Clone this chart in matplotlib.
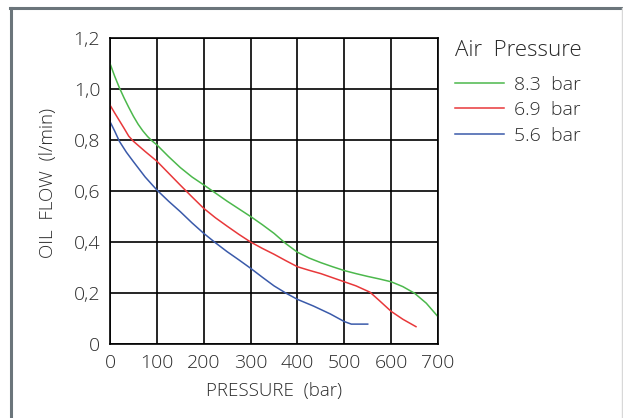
import matplotlib
matplotlib.use("Agg")
import matplotlib.pyplot as plt
from matplotlib.lines import Line2D

# ---- data ----
p_83 = [0, 10, 20, 30, 40, 50, 60, 70, 80, 90, 100, 125, 150, 175, 200, 225, 250, 275, 300,
        325, 350, 375, 400, 425, 450, 475, 500, 525, 550, 575, 600, 625, 650, 675, 700]
f_83 = [1.10, 1.05, 1.005, 0.965, 0.928, 0.893, 0.862, 0.836, 0.814, 0.796, 0.781, 0.735, 0.692,
        0.655, 0.624, 0.592, 0.56, 0.53, 0.50, 0.468, 0.434, 0.394, 0.36, 0.337, 0.319, 0.303,
        0.288, 0.276, 0.265, 0.255, 0.244, 0.225, 0.199, 0.16, 0.107]

p_69 = [0, 10, 20, 30, 40, 50, 75, 100, 125, 150, 175, 200, 225, 250, 275, 300, 325, 350,
        375, 400, 425, 450, 475, 500, 525, 555, 575, 600, 625, 653]
f_69 = [0.937, 0.906, 0.876, 0.846, 0.815, 0.795, 0.755, 0.717, 0.67, 0.623, 0.577, 0.532, 0.495,
        0.462, 0.43, 0.40, 0.375, 0.352, 0.327, 0.303, 0.289, 0.276, 0.26, 0.244, 0.228,
        0.203, 0.17, 0.128, 0.097, 0.068]

p_56 = [0, 10, 20, 35, 50, 75, 100, 125, 150, 175, 200, 225, 250, 275, 300, 325, 350, 375, 400,
        434, 470, 500, 515, 550]
f_56 = [0.872, 0.835, 0.795, 0.752, 0.715, 0.655, 0.604, 0.56, 0.519, 0.475, 0.434, 0.397,
        0.362, 0.33, 0.297, 0.262, 0.228, 0.20, 0.175, 0.149, 0.118, 0.088, 0.078, 0.078]

series_labels = ["8.3  bar", "6.9  bar", "5.6  bar"]
series_colors = ["#4cb84c", "#e8383a", "#3a5aaa"]

x_ticks = [0, 100, 200, 300, 400, 500, 600, 700]
x_ticklabels = ["0", "100", "200", "300", "400", "500", "600", "700"]
y_ticks = [0, 0.2, 0.4, 0.6, 0.8, 1.0, 1.2]
y_ticklabels = ["0", "0,2", "0,4", "0,6", "0,8", "1,0", "1,2"]

x_label = "PRESSURE  (bar)"
y_label = "OIL  FLOW  (l/min)"
legend_title = "Air  Pressure"

plt.rcParams['font.family'] = ['Open Sans', 'DejaVu Sans']
plt.rcParams['font.weight'] = 'light'
plt.rcParams['axes.labelweight'] = 'light'
txt = "#2a2a2a"

fig = plt.figure(figsize=(6.23, 4.18), dpi=100)
fig.patch.set_facecolor("white")
W, H = 623, 418
ax = fig.add_axes([110 / W, (H - 344) / H, 328 / W, 306 / H])

for p, f, lab, c in zip([p_83, p_69, p_56], [f_83, f_69, f_56], series_labels, series_colors):
    ax.plot(p, f, color=c, lw=1.1, label=lab)

ax.set_xlim(0, 700)
ax.set_ylim(0, 1.2)
ax.set_xticks(x_ticks)
ax.set_xticklabels(x_ticklabels)
ax.set_yticks(y_ticks)
ax.set_yticklabels(y_ticklabels)
ax.tick_params(length=0, labelsize=14, colors=txt, pad=7)
ax.grid(True, color="black", lw=1.2)
for s in ax.spines.values():
    s.set_color("black")
    s.set_linewidth(1.2)

ax.set_xlabel(x_label, fontsize=13.5, color=txt, fontweight="light")
ax.xaxis.set_label_coords((274 - 110) / 328, (344 - 382) / 306)
ax.set_ylabel(y_label, fontsize=13.5, color=txt, fontweight="light")
ax.yaxis.set_label_coords((57 - 110) / 328, (344 - 183) / 306)

leg = ax.legend(loc="upper left", bbox_to_anchor=(455 / W, (H - 75.5) / H),
                bbox_transform=fig.transFigure, frameon=False,
                fontsize=14, handlelength=2.5, handletextpad=0.55,
                labelspacing=0.40, borderpad=0, borderaxespad=0)
for t in leg.get_texts():
    t.set_color(txt)
fig.text(455 / W, (H - 51) / H, legend_title, fontsize=16, color=txt, ha="left", va="center")

# outer frame
fig.add_artist(Line2D([11 / W, 11 / W], [0, (H - 7.5) / H], transform=fig.transFigure,
                      color="#6b757b", lw=2.2))
fig.add_artist(Line2D([10 / W, 621 / W], [(H - 7.5) / H, (H - 7.5) / H], transform=fig.transFigure,
                      color="#6b757b", lw=2.2))
fig.add_artist(Line2D([621.5 / W, 621.5 / W], [0, (H - 7.5) / H], transform=fig.transFigure,
                      color="#d8d8d8", lw=1))

fig.savefig("out.png", dpi=100)
